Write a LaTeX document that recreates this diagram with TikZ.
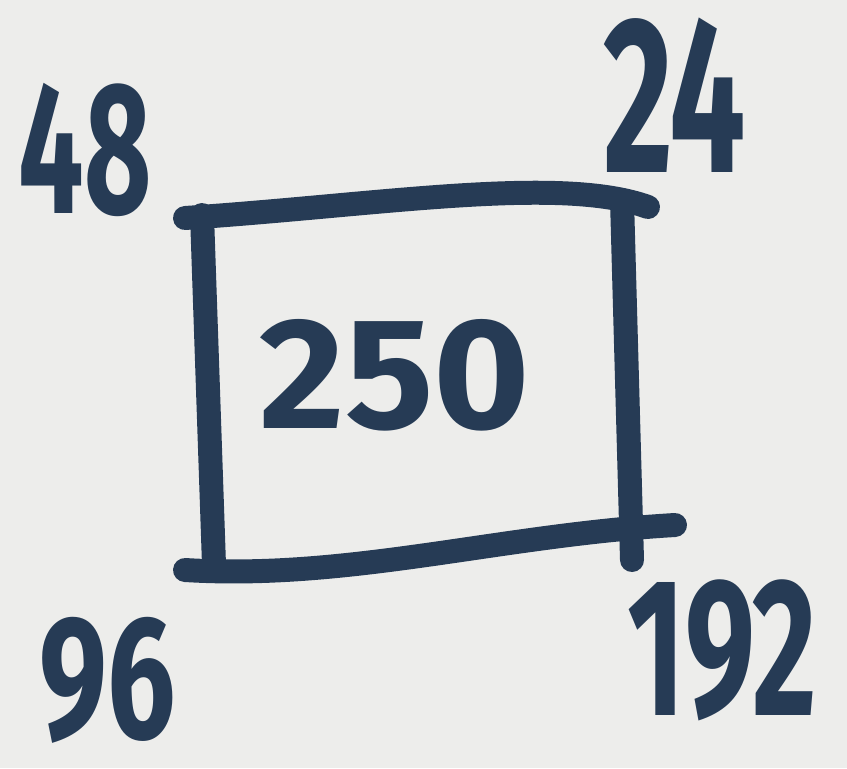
\documentclass[tikz,border=0pt]{standalone}
\usepackage{fontspec}
\setmainfont{Fira Sans}
\definecolor{ink}{HTML}{263B55}
\definecolor{paper}{HTML}{EDEDEB}
\tikzset{
  numlabel/.style={text=ink,font=\fontsize{100}{100}\selectfont\bfseries,inner sep=0pt,transform shape},
  penline/.style={draw=ink,line width=0.48cm,line cap=round,line join=round}
}
\begin{document}
\begin{tikzpicture}[x=0.02cm,y=-0.02cm]
\fill[paper] (0,0) rectangle (847,768);
\useasboundingbox (0,0) rectangle (847,768);
% the box
\coordinate (tl) at (185,218);
\coordinate (tr) at (648,207);
\coordinate (bl) at (185,570);
\coordinate (br) at (675,525);
\draw[penline] (tl) .. controls (380,205) and (560,175) .. (tr);
\draw[penline] (202,215) -- (214,565);
\draw[penline] (622,200) -- (632,560);
\draw[penline] (bl) .. controls (350,580) and (500,535) .. (br);
% numbers
\node[numlabel,xscale=0.94,yscale=0.9] (center) at (395,375) {250};
\node[numlabel,xscale=0.66,yscale=1.07] (nw) at (85,150) {48};
\node[numlabel,xscale=0.77,yscale=1.27] (ne) at (675,95) {24};
\node[numlabel,xscale=0.69,yscale=1.0] (sw) at (108,680) {96};
\node[numlabel,xscale=0.71,yscale=1.12] (se) at (722,650) {192};
\end{tikzpicture}
\end{document}
